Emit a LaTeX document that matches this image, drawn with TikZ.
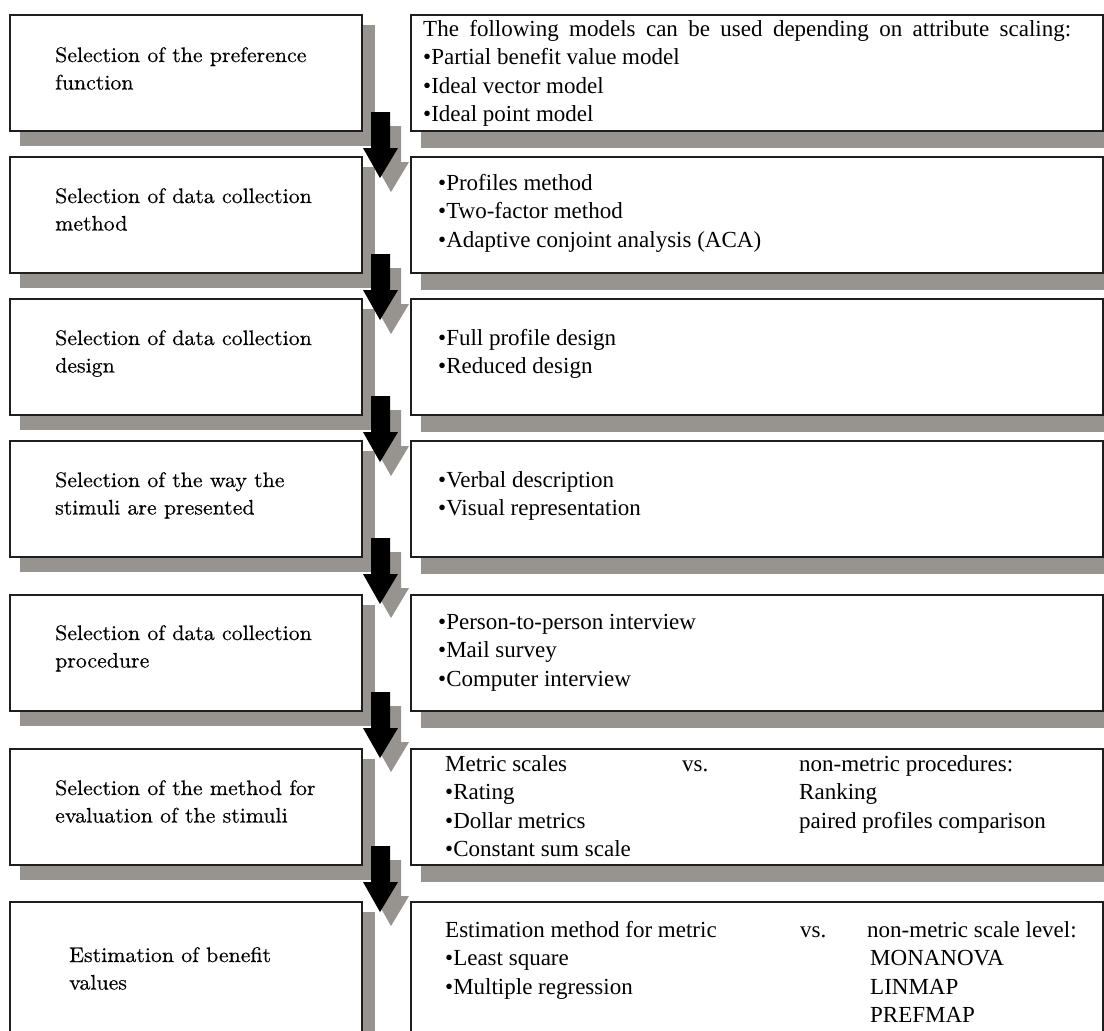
\documentclass[tikz,border=0pt]{standalone}
\usepackage{fontspec}
\newfontfamily\rfont{Liberation Serif}
\newfontfamily\lfont{lmroman10-regular}[Extension=.otf, FakeStretch=1.04, FakeBold=0.4]
\definecolor{shd}{RGB}{151,148,143}
\definecolor{edge}{RGB}{30,30,30}
\newcommand\rowbox[3]{%
  \fill[shd] (20,#2+10) rectangle (375,#2+#3+15);
  \fill[shd] (421,#2+10) rectangle (1110,#2+#3+17);
  \node[boxst, minimum width=352, minimum height=#3] (L#1) at (10,#2) {};
  \node[boxst, minimum width=692, minimum height=#3] (R#1) at (411,#2) {};
}
\newcommand\tlines[6]{%
  \foreach \s [count=\i from 0] in {#6} {\node[#1] (#2-\i) at (#3,#4+\i*#5) {\s};}%
}
\newcommand\blockarrow[2]{%
  \begin{scope}[shift={(#1.south east)}]
    \fill[shd] (20,-5) -- (39,-5) -- (39,31) -- (47,31) -- (29,61) -- (12,31) -- (20,31) -- cycle;
    \fill[black] (9,-19) -- (28,-19) -- (28,17) -- (36,17) -- (18,47) -- (1,17) -- (9,17) -- cycle;
  \end{scope}
  \coordinate (arr#1#2) at (#2.north);
}
\begin{document}
\begin{tikzpicture}[x=1pt,y=-1pt,
  boxst/.style={draw=edge, line width=1.4pt, fill=white, inner sep=0pt, outer sep=0pt, anchor=north west},
  ltxt/.style={anchor=base west, inner sep=0pt, font=\lfont\fontsize{21}{27}\selectfont},
  rtxt/.style={anchor=base west, inner sep=0pt, font=\rfont\fontsize{23}{28}\selectfont}]
\useasboundingbox (0,0) rectangle (1104,1031);
\clip (0,0) rectangle (1104,1031);
\fill[white] (0,0) rectangle (1104,1031);
% rows
\rowbox{1}{15}{116}
\rowbox{2}{157}{116}
\rowbox{3}{299}{116}
\rowbox{4}{441}{116}
\rowbox{5}{595}{116}
\rowbox{6}{749}{116}
\rowbox{7}{902}{140}
% arrows
\blockarrow{L1}{L2}
\blockarrow{L2}{L3}
\blockarrow{L3}{L4}
\blockarrow{L4}{L5}
\blockarrow{L5}{L6}
\blockarrow{L6}{L7}
% left texts
\tlines{ltxt}{lt1}{55}{62}{27.5}{Selection of the preference,function}
\tlines{ltxt}{lt2}{55}{203}{27.5}{Selection of data collection,method}
\tlines{ltxt}{lt3}{55}{345}{27.5}{Selection of data collection,design}
\tlines{ltxt}{lt4}{55}{487}{27.5}{Selection of the way the,stimuli are presented}
\tlines{ltxt}{lt5}{55}{640}{27.5}{Selection of data collection,procedure}
\tlines{ltxt}{lt6}{55}{795}{27.5}{Selection of the method for,evaluation of the stimuli}
\tlines{ltxt}{lt7}{69}{962}{27.5}{Estimation of benefit,values}
% right texts
\node[rtxt] (rt1-0) at (423,36) {\makebox[648pt][s]{The following models can be used depending on attribute scaling:}};
\tlines{rtxt}{rt1}{423}{64.5}{28.5}{•Partial benefit value model,•Ideal vector model,•Ideal point model}
\tlines{rtxt}{rt2}{438}{190}{28.5}{•Profiles method,•Two-factor method,•Adaptive conjoint analysis (ACA)}
\tlines{rtxt}{rt3}{438}{345}{28.5}{•Full profile design,•Reduced design}
\tlines{rtxt}{rt4}{438}{487}{28.5}{•Verbal description,•Visual representation}
\tlines{rtxt}{rt5}{438}{629}{28.5}{•Person-to-person interview,•Mail survey,•Computer interview}
\tlines{rtxt}{rt6}{445}{771}{28.5}{Metric scales,•Rating,•Dollar metrics,•Constant sum scale}
\node[rtxt] (vs6) at (682,771) {vs.};
\tlines{rtxt}{rn6}{799}{771}{28.5}{non-metric procedures:,Ranking,paired profiles comparison}
\tlines{rtxt}{rt7}{445}{937}{28.5}{Estimation method for metric,•Least square,•Multiple regression}
\node[rtxt] (vs7) at (800,937) {vs.};
\node[rtxt] (rn7) at (867,937) {non-metric scale level:};
\tlines{rtxt}{rm7}{870}{965.5}{28.5}{MONANOVA,LINMAP,PREFMAP}
\end{tikzpicture}
\end{document}
